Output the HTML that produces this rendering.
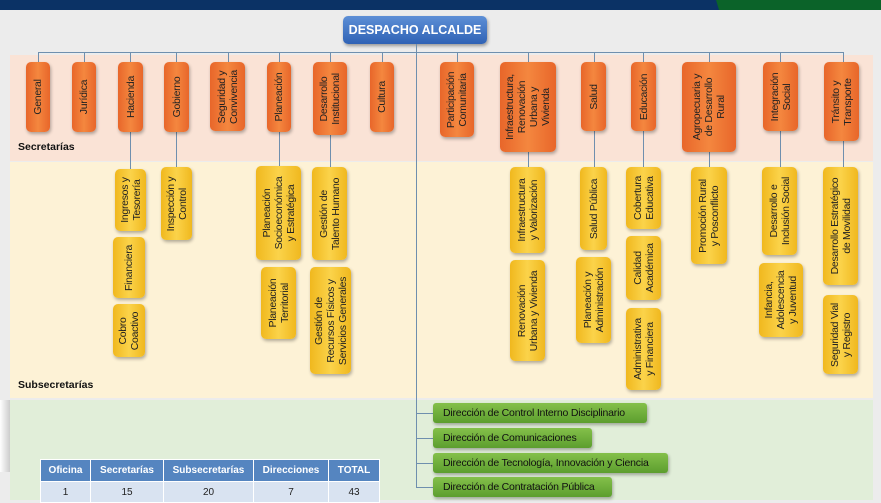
<!DOCTYPE html>
<html><head><meta charset="utf-8"><style>
*{margin:0;padding:0;box-sizing:border-box}
body{width:881px;height:500px;overflow:hidden;background:#ececec;position:relative;font-family:"Liberation Sans",Arial,sans-serif}
.a{position:absolute}
.o,.y{position:absolute;border-radius:5px;box-shadow:1px 2px 3px rgba(0,0,0,.3)}
.o{background:linear-gradient(90deg,#e8662a,#f4873f 50%,#e8662a)}
.y{background:linear-gradient(90deg,#f0b81e,#fbd34a 50%,#f0b81e)}
.o span,.y span{position:absolute;left:50%;top:50%;transform:translate(-50%,-50%) rotate(-90deg);white-space:nowrap;text-align:center;font-size:10.5px;line-height:12px;letter-spacing:-0.3px;color:#222}
.l{position:absolute;background:#6f8fae}
.g{position:absolute;left:433px;height:20px;border-radius:3px;background:linear-gradient(#84c04a,#5c9e2e);box-shadow:1px 2px 3px rgba(0,0,0,.3);font-size:10.5px;color:#111;line-height:20px;padding-left:10px;letter-spacing:-0.2px}
table{position:absolute;left:40px;top:459px;border-collapse:collapse;font-size:10px}
td{border:1px solid #fff;text-align:center;height:21px;color:#222}
th{border:1px solid #fff;background:#5585c0;color:#fff;height:22px;font-weight:bold}
</style></head><body>
<div class="a" style="left:0;top:0;width:881px;height:10px;background:#0b3265"></div>
<div class="a" style="left:716px;top:0;width:165px;height:10px;background:#0b6329;clip-path:polygon(0 0,100% 0,100% 100%,3px 100%)"></div>
<div class="a" style="left:10px;top:55px;width:863px;height:106px;background:#fae3d6"></div>
<div class="a" style="left:10px;top:162px;width:863px;height:236px;background:#fdf2d6"></div>
<div class="a" style="left:10px;top:400px;width:863px;height:100px;background:#e1eed9"></div>
<div class="a" style="left:0;top:400px;width:10px;height:72px;background:linear-gradient(90deg,#fff,#ccc)"></div>
<div class="a" style="left:343px;top:16px;width:144px;height:28px;border-radius:5px;background:linear-gradient(#5d8fd6,#2f62b5);box-shadow:1px 2px 3px rgba(0,0,0,.35);color:#fff;font-weight:bold;font-size:12.5px;text-align:center;line-height:28px">DESPACHO ALCALDE</div>
<div class="l" style="left:38px;top:52px;width:806px;height:1px"></div>
<div class="l" style="left:416px;top:44px;width:1px;height:444px"></div>
<div class="l" style="left:38px;top:52px;width:1px;height:10px"></div>
<div class="l" style="left:84px;top:52px;width:1px;height:10px"></div>
<div class="l" style="left:130px;top:52px;width:1px;height:117px"></div>
<div class="l" style="left:176px;top:52px;width:1px;height:115px"></div>
<div class="l" style="left:228px;top:52px;width:1px;height:10px"></div>
<div class="l" style="left:279px;top:52px;width:1px;height:114px"></div>
<div class="l" style="left:330px;top:52px;width:1px;height:115px"></div>
<div class="l" style="left:382px;top:52px;width:1px;height:10px"></div>
<div class="l" style="left:457px;top:52px;width:1px;height:10px"></div>
<div class="l" style="left:528px;top:52px;width:1px;height:115px"></div>
<div class="l" style="left:594px;top:52px;width:1px;height:115px"></div>
<div class="l" style="left:643px;top:52px;width:1px;height:115px"></div>
<div class="l" style="left:709px;top:52px;width:1px;height:115px"></div>
<div class="l" style="left:780px;top:52px;width:1px;height:115px"></div>
<div class="l" style="left:843px;top:52px;width:1px;height:115px"></div>
<div class="o" style="left:26px;top:62px;width:24px;height:70px"><span>General</span></div>
<div class="o" style="left:72px;top:62px;width:24px;height:70px"><span>Jurídica</span></div>
<div class="o" style="left:118px;top:62px;width:25px;height:70px"><span>Hacienda</span></div>
<div class="o" style="left:164px;top:62px;width:25px;height:70px"><span>Gobierno</span></div>
<div class="o" style="left:210px;top:62px;width:35px;height:69px"><span>Seguridad y<br>Convivencia</span></div>
<div class="o" style="left:267px;top:62px;width:24px;height:70px"><span>Planeación</span></div>
<div class="o" style="left:313px;top:62px;width:34px;height:73px"><span>Desarrollo<br>Institucional</span></div>
<div class="o" style="left:370px;top:62px;width:24px;height:70px"><span>Cultura</span></div>
<div class="o" style="left:440px;top:62px;width:34px;height:75px"><span>Participación<br>Comunitaria</span></div>
<div class="o" style="left:500px;top:62px;width:56px;height:90px"><span>Infraestructura,<br>Renovación<br>Urbana y<br>Vivienda</span></div>
<div class="o" style="left:581px;top:62px;width:25px;height:69px"><span>Salud</span></div>
<div class="o" style="left:631px;top:62px;width:25px;height:69px"><span>Educación</span></div>
<div class="o" style="left:682px;top:62px;width:54px;height:90px"><span>Agropecuaria y<br>de Desarrollo<br>Rural</span></div>
<div class="o" style="left:763px;top:62px;width:35px;height:69px"><span>Integración<br>Social</span></div>
<div class="o" style="left:824px;top:62px;width:35px;height:79px"><span>Tránsito y<br>Transporte</span></div>
<div class="a" style="left:18px;top:141px;font-size:10.5px;font-weight:bold;color:#111">Secretarías</div>
<div class="a" style="left:18px;top:379px;font-size:10.5px;font-weight:bold;color:#111">Subsecretarías</div>
<div class="y" style="left:115px;top:169px;width:31px;height:62px"><span>Ingresos y<br>Tesorería</span></div>
<div class="y" style="left:113px;top:237px;width:32px;height:61px"><span>Financiera</span></div>
<div class="y" style="left:113px;top:304px;width:32px;height:53px"><span>Cobro<br>Coactivo</span></div>
<div class="y" style="left:161px;top:167px;width:31px;height:73px"><span>Inspección y<br>Control</span></div>
<div class="y" style="left:256px;top:166px;width:45px;height:94px"><span>Planeación<br>Socioeconómica<br>y Estratégica</span></div>
<div class="y" style="left:261px;top:267px;width:35px;height:72px"><span>Planeación<br>Territorial</span></div>
<div class="y" style="left:312px;top:167px;width:35px;height:93px"><span>Gestión de<br>Talento Humano</span></div>
<div class="y" style="left:310px;top:267px;width:41px;height:107px"><span>Gestión de<br>Recursos Físicos y<br>Servicios Generales</span></div>
<div class="y" style="left:510px;top:167px;width:35px;height:86px"><span>Infraestructura<br>y Valorización</span></div>
<div class="y" style="left:510px;top:260px;width:35px;height:101px"><span>Renovación<br>Urbana y Vivienda</span></div>
<div class="y" style="left:580px;top:167px;width:27px;height:83px"><span>Salud Pública</span></div>
<div class="y" style="left:576px;top:257px;width:35px;height:86px"><span>Planeación y<br>Administración</span></div>
<div class="y" style="left:626px;top:167px;width:35px;height:62px"><span>Cobertura<br>Educativa</span></div>
<div class="y" style="left:626px;top:236px;width:35px;height:64px"><span>Calidad<br>Académica</span></div>
<div class="y" style="left:626px;top:308px;width:35px;height:82px"><span>Administrativa<br>y Financiera</span></div>
<div class="y" style="left:691px;top:167px;width:36px;height:97px"><span>Promoción Rural<br>y Posconflicto</span></div>
<div class="y" style="left:762px;top:167px;width:35px;height:88px"><span>Desarrollo e<br>Inclusión Social</span></div>
<div class="y" style="left:759px;top:263px;width:44px;height:74px"><span>Infancia,<br>Adolescencia<br>y Juventud</span></div>
<div class="y" style="left:823px;top:167px;width:35px;height:118px"><span>Desarrollo Estratégico<br>de Movilidad</span></div>
<div class="y" style="left:823px;top:295px;width:35px;height:79px"><span>Seguridad Vial<br>y Registro</span></div>
<div class="l" style="left:416px;top:413px;width:17px;height:1px"></div>
<div class="l" style="left:416px;top:438px;width:17px;height:1px"></div>
<div class="l" style="left:416px;top:463px;width:17px;height:1px"></div>
<div class="l" style="left:416px;top:487px;width:17px;height:1px"></div>
<div class="g" style="top:403px;width:214px">Dirección de Control Interno Disciplinario</div>
<div class="g" style="top:428px;width:159px">Dirección de Comunicaciones</div>
<div class="g" style="top:453px;width:235px">Dirección de Tecnología, Innovación y Ciencia</div>
<div class="g" style="top:477px;width:179px">Dirección de Contratación Pública</div>
<table>
<tr><th style="width:50px">Oficina</th><th style="width:73px">Secretarías</th><th style="width:90px">Subsecretarías</th><th style="width:75px">Direcciones</th><th style="width:51px">TOTAL</th></tr>
<tr style="background:#d9e3f1"><td>1</td><td>15</td><td>20</td><td>7</td><td>43</td></tr>
</table>
</body></html>
